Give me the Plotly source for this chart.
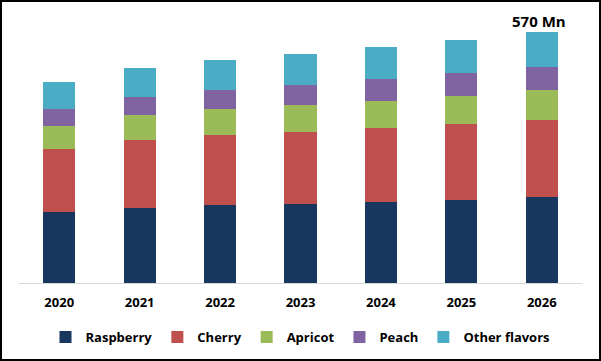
import plotly.graph_objects as go

years = ["2020", "2021", "2022", "2023", "2024", "2025", "2026"]
raspberry = [161, 170, 177, 179, 184, 188, 195]
cherry = [143, 154, 159, 164, 168, 173, 175]
apricot = [52, 57, 59, 61, 61, 64, 68]
peach = [39, 41, 43, 45, 50, 52, 52]
other = [61, 66, 68, 70, 73, 75, 80]
series_names = ["Raspberry", "Cherry", "Apricot", "Peach", "Other flavors"]
colors = ["#17375E", "#C0504D", "#9BBB59", "#8064A2", "#4BACC6"]
total_label = "570 Mn"

W, H = 601, 361
L, R, T, B = 19, 19, 20, 78
pw, ph = W - L - R, H - T - B

fig = go.Figure()
for name, vals, c in zip(series_names, [raspberry, cherry, apricot, peach, other], colors):
    fig.add_trace(go.Bar(x=years, y=vals, name=name, marker=dict(color=c, line=dict(width=0)),
                         hoverinfo="skip"))

total_last = raspberry[-1] + cherry[-1] + apricot[-1] + peach[-1] + other[-1]
fig.add_annotation(x=len(years) - 1, y=total_last, text="<b>" + total_label + "</b>", showarrow=False,
                   yanchor="bottom", yshift=-1, xshift=-3, font=dict(size=15, color="#000000"))

fig.add_shape(type="rect", xref="paper", yref="paper",
              x0=-(L - 1) / pw, x1=1 + (R - 1) / pw, y0=-(B - 1) / ph, y1=1 + (T - 1) / ph,
              line=dict(color="#000000", width=2), fillcolor="rgba(0,0,0,0)", layer="above")

fig.update_layout(
    width=W, height=H,
    margin=dict(l=L, r=R, t=T, b=B, autoexpand=False),
    barmode="stack", bargap=0.6,
    paper_bgcolor="white", plot_bgcolor="white",
    font=dict(family="Open Sans, sans-serif", color="#000000"),
    xaxis=dict(type="category", range=[-0.5, len(years) - 0.5], showline=True,
               linecolor="#D9D9D9", linewidth=1, ticks="", showgrid=False, ticklabelstandoff=7,
               tickfont=dict(size=13, color="#000000", weight="bold")),
    yaxis=dict(visible=False, range=[0, 597], showgrid=False),
    legend=dict(orientation="h", x=0.5, xanchor="center", y=-54 / ph, yanchor="middle",
                traceorder="normal", font=dict(size=13, weight="bold"), itemclick=False),
    showlegend=True,
)

fig.write_html("out.html", config={"displayModeBar": False},
               post_script="document.body.style.margin='0';document.body.style.overflow='hidden';")
